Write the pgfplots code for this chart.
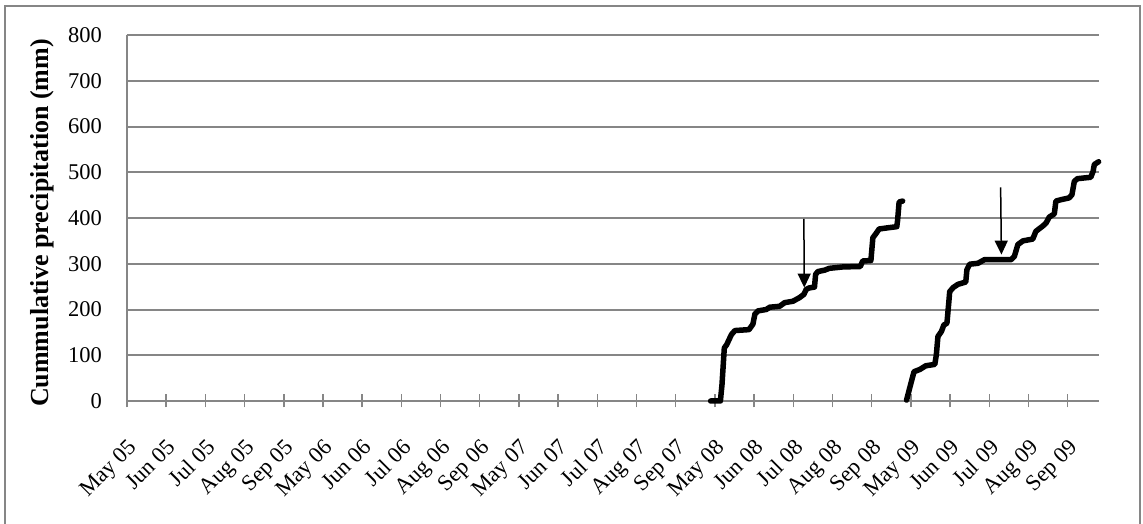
\documentclass[border=0pt]{standalone}
\usepackage{fontspec}
\setmainfont{Liberation Serif}
\usepackage{pgfplots}
\pgfplotsset{compat=1.18}
\usetikzlibrary{arrows.meta}

\definecolor{gridc}{HTML}{868686}

% cumulative precipitation, season 2008 (x = month index on the category axis)
\pgfplotstableread{
x y
14.89 0
15.14 0
15.18 35
15.24 116
15.30 123
15.36 134
15.42 145
15.51 154
15.87 156
15.97 168
16.02 190
16.10 197
16.31 200
16.40 205
16.65 207
16.78 215
16.99 218
17.16 226
17.27 233
17.33 244
17.40 247
17.54 249
17.57 277
17.63 283
17.80 286
17.92 290
18.26 293
18.71 294
18.77 306
18.98 307
19.03 357
19.11 366
19.19 376
19.45 379
19.64 381
19.66 394
19.70 435
19.79 437
}\seasonA

% season 2009
\pgfplotstableread{
x y
19.89 2
19.99 35
20.08 64
20.23 69
20.38 77
20.61 80
20.65 101
20.69 141
20.78 152
20.84 166
20.92 170
20.97 218
20.99 239
21.08 248
21.20 255
21.40 260
21.43 287
21.50 299
21.71 301
21.88 309
22.56 309
22.64 316
22.73 342
22.86 350
23.11 354
23.19 371
23.36 382
23.45 389
23.53 402
23.66 409
23.70 437
23.83 440
24.04 444
24.11 451
24.17 480
24.25 486
24.59 489
24.65 502
24.68 517
24.79 523
}\seasonB

\begin{document}
\begin{tikzpicture}
\useasboundingbox (-127pt,-123pt) rectangle (1016pt,401pt);
\begin{axis}[
    scale only axis,
    width=972pt, height=366pt,
    xmin=0, xmax=24.8,
    ymin=0, ymax=800,
    axis x line*=bottom,
    axis y line*=left,
    axis line style={gridc, line width=2pt},
    xtick={0,...,24},
    xticklabels={May 05,Jun 05,Jul 05,Aug 05,Sep 05,
                 May 06,Jun 06,Jul 06,Aug 06,Sep 06,
                 May 07,Jun 07,Jul 07,Aug 07,Sep 07,
                 May 08,Jun 08,Jul 08,Aug 08,Sep 08,
                 May 09,Jun 09,Jul 09,Aug 09,Sep 09},
    ytick={0,100,...,800},
    ymajorgrids,
    major grid style={gridc, line width=2pt},
    major tick length=13pt,
    xtick align=center,
    ytick align=inside,
    every tick/.style={gridc, line width=1.5pt},
    tick label style={font=\fontsize{22.5}{26}\selectfont},
    /pgf/number format/assume math mode=true,
    yticklabel style={inner sep=0pt, xshift=-25pt},
    xticklabel style={rotate=45, anchor=north east, inner sep=0pt},
    xticklabel shift=30pt,
    ylabel={Cummulative precipitation (mm)},
    every axis y label/.style={at={(rel axis cs:0,0.5)}, xshift=-85pt, yshift=-5pt,
        rotate=90, anchor=center, font=\fontsize{26}{30}\selectfont\bfseries},
    clip=false,
]
\addplot[black, line width=5.5pt, line cap=round, line join=round] table[x=x, y=y] {\seasonA};
\addplot[black, line width=5.5pt, line cap=round, line join=round] table[x=x, y=y] {\seasonB};
\draw[-{Triangle[length=14pt,width=13pt]}, line width=1.5pt] (axis cs:17.27,398) -- (axis cs:17.28,248);
\draw[-{Triangle[length=14pt,width=13pt]}, line width=1.5pt] (axis cs:22.29,467) -- (axis cs:22.31,320);
\end{axis}
\draw[gridc, line width=2pt] (-122pt,-140pt) -- (-122pt,395pt) -- (1013pt,395pt) -- (1013pt,-140pt);
\end{tikzpicture}
\end{document}
